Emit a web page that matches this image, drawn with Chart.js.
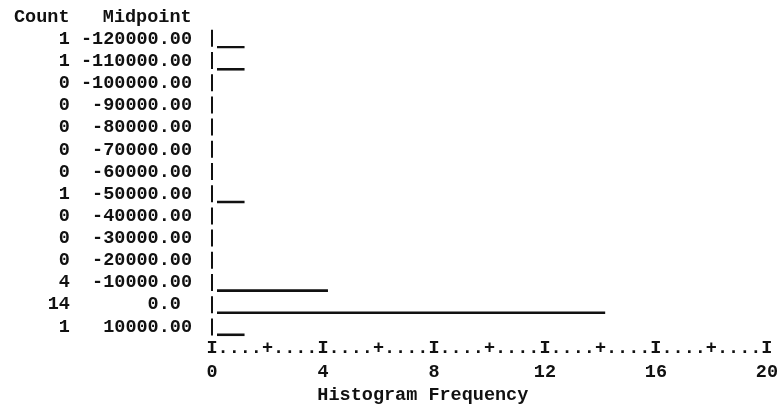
<!DOCTYPE html>
<html>
<head>
<meta charset="utf-8">
<style>
  html, body { margin: 0; padding: 0; background: #fff; }
  canvas { display: block; }
</style>
</head>
<body>
<canvas id="hist" width="781" height="405"></canvas>
<script src="https://cdn.jsdelivr.net/npm/chart.js@4.4.1/dist/chart.umd.min.js"></script>
<script>
// ── data ─────────────────────────────────────────────
const midLabels = [
  "-120000.00", "-110000.00", "-100000.00", "-90000.00", "-80000.00",
  "-70000.00", "-60000.00", "-50000.00", "-40000.00", "-30000.00",
  "-20000.00", "-10000.00", "0.0", "10000.00"
];
const counts = [1, 1, 0, 0, 0, 0, 0, 1, 0, 0, 0, 4, 14, 1];
const freqTicks = [0, 4, 8, 12, 16, 20];

const INK  = "#111";
const NONE = "rgba(0,0,0,0)";
const MONO = "'Liberation Mono', 'DejaVu Sans Mono', monospace";

Chart.defaults.font = { family: MONO, size: 18.5, weight: "bold", lineHeight: 1.2 };
Chart.defaults.color = INK;

// count column (width 5) + midpoint aligned on the decimal point
function rowLabel(i) {
  const m = midLabels[i];
  const dot = m.indexOf(".");
  const whole = m.slice(0, dot).padStart(7);
  const frac = m.slice(dot).padEnd(3);
  return String(counts[i]).padStart(5) + " " + whole + frac;
}

// ruler along the frequency axis: I every 4, + every 2, dots between
function rulerMark(i) {
  return i % 10 === 0 ? "I" : i % 5 === 0 ? "+" : ".";
}

new Chart(document.getElementById("hist").getContext("2d"), {
  type: "bar",
  data: {
    labels: midLabels,
    datasets: [{
      data: counts,
      xAxisID: "xb",
      yAxisID: "y",
      backgroundColor: NONE,
      borderColor: INK,
      borderWidth: { top: 0, right: 0, bottom: 2, left: 0 },
      borderSkipped: false,
      barThickness: 18,
    }],
  },
  options: {
    responsive: false,
    animation: false,
    indexAxis: "y",
    layout: { padding: { left: 14, right: 5, top: 0, bottom: 0 } },
    scales: {
      y: {
        type: "category",
        grid: { display: false, drawTicks: false },
        border: { display: false },
        ticks: { padding: 20, autoSkip: false, callback: (v, i) => rowLabel(i) },
        afterFit: (scale) => {
          scale.width = 198;
          scale.paddingTop = 0;
          scale.paddingBottom = 0;
        },
      },
      x: {
        type: "linear", position: "bottom", weight: 0,
        min: 0, max: 20,
        // only the zero line is drawn: the broken "|" down the left side
        grid: {
          display: true, drawTicks: false, lineWidth: 2,
          color: (ctx) => ctx.index === 0 ? INK : NONE,
        },
        border: { display: false, dash: [17, 5.2], dashOffset: 20.6 },
        ticks: { stepSize: 0.4, autoSkip: false, maxRotation: 0, padding: 0,
                 font: { lineHeight: 1.1 },
                 callback: (v, i) => rulerMark(i) },
      },
      x2: {
        type: "linear", position: "bottom", weight: 1,
        min: freqTicks[0], max: freqTicks[freqTicks.length - 1],
        grid: { display: false, drawTicks: false },
        border: { display: false },
        afterBuildTicks: (axis) => { axis.ticks = freqTicks.map(v => ({ value: v })); },
        ticks: { autoSkip: false, maxRotation: 0, padding: 3, callback: (v) => String(v) },
        title: {
          display: true, text: "Histogram Frequency".padEnd(31), padding: 0,
          font: { lineHeight: 1.0 },
        },
      },
      // bars start one character past the axis line
      xb: { type: "linear", display: false, min: -0.18, max: 19.82 },
    },
    plugins: {
      legend: { display: false },
      tooltip: { enabled: false },
      title: {
        display: true,
        text: "Count   Midpoint",
        align: "start",
        padding: { top: 6, bottom: 0 },
      },
    },
  },
});
</script>
</body>
</html>
